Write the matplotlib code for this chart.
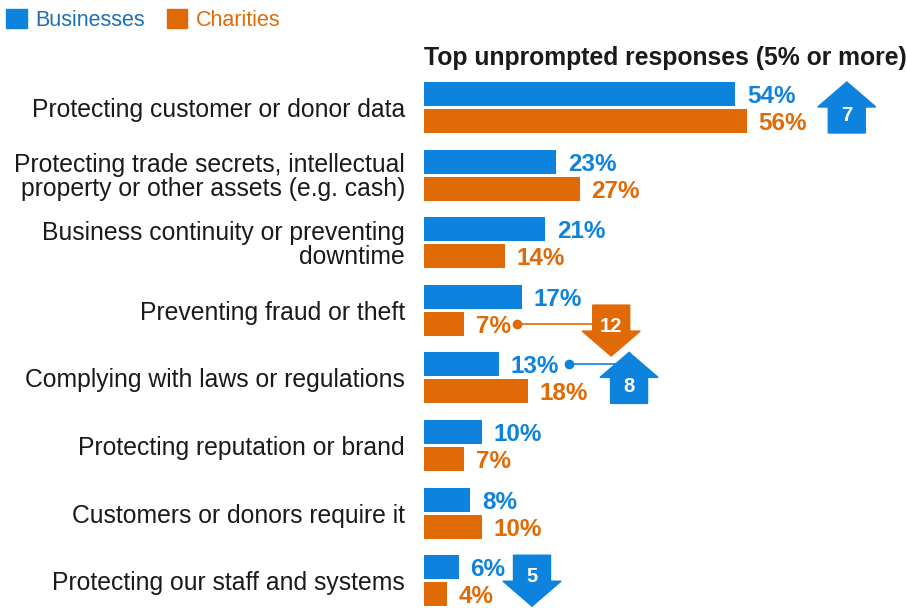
import matplotlib
matplotlib.use("Agg")
import matplotlib.pyplot as plt
from matplotlib.patches import Polygon, Patch

plt.rcParams["font.family"] = ["Liberation Sans", "DejaVu Sans"]

BLUE = "#0e83dd"
ORANGE = "#e06a05"

categories = [
    "Protecting customer or donor data",
    "Protecting trade secrets, intellectual\nproperty or other assets (e.g. cash)",
    "Business continuity or preventing\ndowntime",
    "Preventing fraud or theft",
    "Complying with laws or regulations",
    "Protecting reputation or brand",
    "Customers or donors require it",
    "Protecting our staff and systems",
]
businesses = [54, 23, 21, 17, 13, 10, 8, 6]
charities = [56, 27, 14, 7, 18, 7, 10, 4]

# change arrows: (row, series, change, direction)
arrow_rows = [0, 3, 4, 7]
arrow_series = ["Businesses", "Charities", "Businesses", "Businesses"]
arrow_change = [7, 12, 8, 5]
arrow_dir = ["up", "down", "up", "down"]

# layout (pixels -> data units)
PX_PER_PCT = 5.76
PX_PER_ROW = 67.6
X0_PX = 424
ROW0_PX = 107.5
W, H = 907, 608

fig = plt.figure(figsize=(W / 100, H / 100), dpi=100)
ax = fig.add_axes([0, 0, 1, 1])
ax.set_xlim(-X0_PX / PX_PER_PCT, (W - X0_PX) / PX_PER_PCT)
ax.set_ylim((H - ROW0_PX) / PX_PER_ROW, -ROW0_PX / PX_PER_ROW)
ax.axis("off")

bh = 24 / PX_PER_ROW
off = 13.5 / PX_PER_ROW
rows = list(range(len(categories)))
yb = [r - off for r in rows]
yc = [r + off for r in rows]
ax.barh(yb, businesses, height=bh, color=BLUE)
ax.barh(yc, charities, height=bh, color=ORANGE)

for y, v in zip(yb, businesses):
    ax.annotate(f"{v}%", (v, y), xytext=(8.5, 0), textcoords="offset points",
                ha="left", va="center_baseline", fontsize=17.5, fontweight="bold", color=BLUE)
for y, v in zip(yc, charities):
    ax.annotate(f"{v}%", (v, y), xytext=(8.5, 0), textcoords="offset points",
                ha="left", va="center_baseline", fontsize=17.5, fontweight="bold", color=ORANGE)

for r, lab in zip(rows, categories):
    if "\n" in lab:
        ax.annotate(lab, (-19 / PX_PER_PCT, r), xytext=(0, -1.5), textcoords="offset points",
                    ha="right", va="center", fontsize=17.8, color="#1a1a1a",
                    linespacing=1.02)
    else:
        ax.text(-19 / PX_PER_PCT, r, lab, ha="right", va="center_baseline",
                fontsize=17.8, color="#1a1a1a")

ax.text(0, (56 - ROW0_PX) / PX_PER_ROW, "Top unprompted responses (5% or more)",
        ha="left", va="center_baseline", fontsize=17.8, fontweight="bold", color="#1a1a1a")

# arrows
arrow_x = [73.4, 32.5, 35.6, 18.75]
arrow_yoff = [0, 0.3, 0, 0]
dot_x = [None, 16.1, 25.2, None]
HW = 58 / PX_PER_PCT
SW = 37 / PX_PER_PCT
AH = 51 / PX_PER_ROW
HL = 25 / PX_PER_ROW
for r, s, c, d, cx, yo, dx in zip(arrow_rows, arrow_series, arrow_change,
                                   arrow_dir, arrow_x, arrow_yoff, dot_x):
    col = BLUE if s == "Businesses" else ORANGE
    cy = r + yo
    sgn = -1 if d == "up" else 1  # y axis inverted: up = smaller y
    tip = cy + sgn * AH / 2
    base = tip - sgn * HL
    tail = cy - sgn * AH / 2
    pts = [(cx, tip), (cx + HW / 2, base), (cx + SW / 2, base),
           (cx + SW / 2, tail), (cx - SW / 2, tail), (cx - SW / 2, base),
           (cx - HW / 2, base)]
    if dx is not None:
        ly = r - off if s == "Businesses" else r + off
        ax.plot([dx, cx], [ly, ly], color=col, lw=1.2, zorder=2)
        ax.plot([dx], [ly], "o", color=col, ms=6, zorder=3)
    ax.add_patch(Polygon(pts, closed=True, color=col, zorder=4))
    ax.text(cx, cy - sgn * 6.5 / PX_PER_ROW, str(c), ha="center", va="center_baseline",
            fontsize=14.5, fontweight="bold", color="white", zorder=5)

handles = [Patch(color=BLUE, label="Businesses"), Patch(color=ORANGE, label="Charities")]
leg = fig.legend(handles=handles, loc="upper left", bbox_to_anchor=(0.0, 1 - 2.5 / H),
                 ncol=2, frameon=False, fontsize=15.5, handlelength=0.95,
                 handleheight=0.95, handletextpad=0.4, columnspacing=1.0,
                 borderaxespad=0.1, borderpad=0.2)
leg.get_texts()[0].set_color("#1c6fb9")
leg.get_texts()[1].set_color(ORANGE)

fig.savefig("out.png", dpi=100)
